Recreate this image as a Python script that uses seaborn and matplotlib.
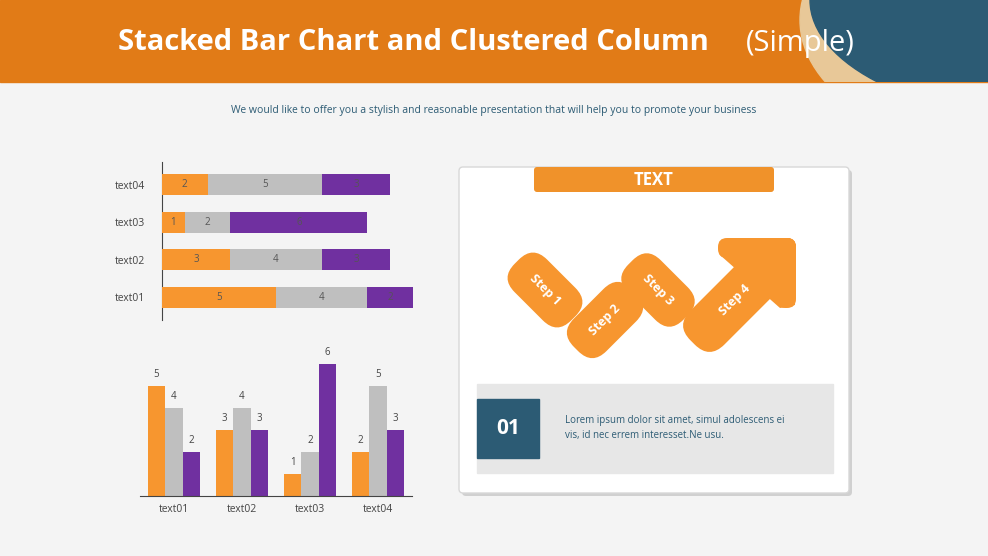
import numpy as np
import pandas as pd
import seaborn as sns
import matplotlib
matplotlib.use('Agg')
import matplotlib.pyplot as plt
from matplotlib.patches import FancyBboxPatch, Rectangle, Polygon, Ellipse
from matplotlib.transforms import Affine2D

# 데이터
categories = ["text01", "text02", "text03", "text04"]
series_a = [5, 3, 1, 2]
series_b = [4, 4, 2, 5]
series_c = [2, 3, 6, 3]
series_names = ["A", "B", "C"]

ORANGE = "#F7962F"
GREY = "#BFBFBF"
PURPLE = "#7030A0"
NAVY = "#2C5B74"
palette = [ORANGE, GREY, PURPLE]

plt.rcParams['font.family'] = 'Open Sans'
fig = plt.figure(figsize=(9.88, 5.56), dpi=100)
fig.patch.set_facecolor("#F4F4F4")

# 배경 / 헤더 (픽셀 좌표)
bg = fig.add_axes([0, 0, 1, 1])
bg.set_xlim(0, 988)
bg.set_ylim(556, 0)
bg.axis('off')
header = Rectangle((0, 0), 988, 82, color="#E17B17")
bg.add_patch(header)
for patch in [Ellipse((1010, 20), 420, 260, color="#E8C898"),
              Ellipse((1060, 0), 500, 240, color=NAVY),
              Ellipse((560, -60), 560, 200, color="#E17B17")]:
    bg.add_patch(patch)
    patch.set_clip_path(header)
bg.text(118, 43, "Stacked Bar Chart and Clustered Column", fontsize=21, fontweight='bold',
        color='white', va='center', ha='left')
bg.text(746, 43, "(Simple)", fontsize=21, color='white', va='center', ha='left')
bg.text(494, 110, "We would like to offer you a stylish and reasonable presentation that will help you to promote your business",
        fontsize=7.5, color=NAVY, ha='center', va='center')

# 오른쪽 카드
bg.add_patch(FancyBboxPatch((462, 170), 390, 326, boxstyle="round,pad=0,rounding_size=4",
                            facecolor="#D0D0D0", edgecolor='none'))
bg.add_patch(FancyBboxPatch((459, 167), 390, 326, boxstyle="round,pad=0,rounding_size=4",
                            facecolor="white", edgecolor="#D8D8D8", lw=1))
bg.add_patch(FancyBboxPatch((534, 167), 240, 25, boxstyle="round,pad=0,rounding_size=3",
                            facecolor="#F0922A", edgecolor='none'))
bg.text(654, 180, "TEXT", fontsize=12, fontweight='bold', color='white', ha='center', va='center')
bg.add_patch(Rectangle((477, 384), 356, 89, color="#E7E7E7"))
bg.add_patch(Rectangle((477, 399), 62, 59, color=NAVY))
bg.text(508, 429, "01", fontsize=15, fontweight='bold', color='white', ha='center', va='center')
bg.text(565, 428, "Lorem ipsum dolor sit amet, simul adolescens ei\nvis, id nec errem interesset.Ne usu.",
        fontsize=7, color=NAVY, ha='left', va='center', linespacing=1.5)

# 스텝 도형
def step(cx, cy, length, width, angle, label, tsize=9):
    p = FancyBboxPatch((-length / 2, -width / 2), length, width,
                       boxstyle="round,pad=0,rounding_size=%d" % (width * 0.45),
                       facecolor=ORANGE, edgecolor='none')
    p.set_transform(Affine2D().rotate_deg(angle).translate(cx, cy) + bg.transData)
    bg.add_patch(p)
    bg.text(cx, cy, label, rotation=-angle, fontsize=tsize, fontweight='bold',
            color='white', ha='center', va='center', rotation_mode='anchor')

step(545, 290, 80, 46, 45, "Step 1")
step(605, 320, 82, 46, -45, "Step 2")
step(658, 290, 78, 46, 45, "Step 3")
step(735, 300, 120, 48, -45, "Step 4")
bg.add_patch(Polygon([(720, 255), (722, 240), (790, 238), (796, 245), (795, 305), (780, 308)],
                     closed=True, facecolor=ORANGE, edgecolor='none'))
bg.add_patch(FancyBboxPatch((718, 238), 78, 20, boxstyle="round,pad=0,rounding_size=9",
                            facecolor=ORANGE, edgecolor='none'))
bg.add_patch(FancyBboxPatch((776, 238), 20, 70, boxstyle="round,pad=0,rounding_size=9",
                            facecolor=ORANGE, edgecolor='none'))

# 누적 가로 막대 (text04 위, text01 아래)
order = categories[::-1]
ax1 = fig.add_axes([162 / 988, 1 - 320 / 556, 260 / 988, 158 / 556])
ax1.set_facecolor('none')
stack_df = pd.DataFrame({"cat": categories, "A": series_a, "B": series_b, "C": series_c})
left = np.zeros(len(categories))
for i, (name, col) in enumerate(zip(series_names, palette)):
    vals = stack_df[name].to_numpy()
    sns.barplot(x=left + vals, y=stack_df["cat"], color=col, orient='h', ax=ax1,
                width=0.55, order=order, saturation=1)
    left = left + vals
# 앞쪽 누적값이 위에 오도록
for i, c in enumerate(ax1.containers):
    for bar in c:
        bar.set_zorder(6 - i)
left = np.zeros(len(categories))
for name in series_names:
    vals = stack_df[name].to_numpy()
    for j, v in enumerate(vals):
        pos = order.index(categories[j])
        ax1.text(left[j] + v / 2, pos, str(v), ha='center', va='center', fontsize=7,
                 color="#555555", zorder=10)
    left = left + vals
ax1.set_ylim(3.6, -0.6)
ax1.set_xlim(0, 11.4)
ax1.set_xlabel("")
ax1.set_ylabel("")
ax1.set_xticks([])
ax1.tick_params(axis='y', length=0, labelsize=7.5, labelcolor="#444444", pad=12)
for s in ["top", "right", "bottom"]:
    ax1.spines[s].set_visible(False)
ax1.spines['left'].set_color("#444444")

# 묶은 세로 막대
ax2 = fig.add_axes([140 / 988, 1 - 496 / 556, 272 / 988, 150 / 556])
ax2.set_facecolor('none')
long_df = pd.DataFrame({"cat": categories * 3,
                        "series": sum([[n] * 4 for n in series_names], []),
                        "value": series_a + series_b + series_c})
sns.barplot(data=long_df, x="cat", y="value", hue="series", palette=palette,
            ax=ax2, width=0.77, saturation=1, legend=False, gap=0)
for c in ax2.containers:
    ax2.bar_label(c, fontsize=7, color="#444444", padding=4)
ax2.set_ylim(0, 6.8)
ax2.set_xlabel("")
ax2.set_ylabel("")
ax2.set_yticks([])
ax2.tick_params(axis='x', length=0, labelsize=7.5, labelcolor="#444444", pad=6)
for s in ["top", "right", "left"]:
    ax2.spines[s].set_visible(False)
ax2.spines['bottom'].set_color("#444444")

fig.savefig("out.png", dpi=100, facecolor=fig.get_facecolor())
